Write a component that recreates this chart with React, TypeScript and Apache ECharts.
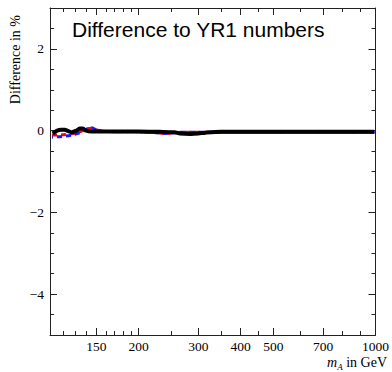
import React, { useEffect, useRef } from "react";
import * as echarts from "echarts";

// m_A in GeV and difference in % for each curve
const blackMass = [111.5, 113, 115, 118, 121, 124, 127, 131, 134, 137, 140, 145, 150, 160, 180, 200, 230, 255, 265, 285, 300, 315, 350, 400, 500, 600, 700, 800, 900, 990];
const blackDiff = [-0.07, -0.04, 0.0, 0.02, 0.02, -0.01, -0.04, 0.0, 0.05, 0.05, 0.0, -0.02, -0.02, -0.02, -0.02, -0.02, -0.03, -0.04, -0.07, -0.08, -0.07, -0.05, -0.03, -0.03, -0.03, -0.03, -0.03, -0.03, -0.03, -0.03];

const redMass = [111, 115, 120, 127, 134, 140, 145, 150, 160, 200, 225, 240, 255, 270, 300, 400, 500, 700, 900, 995];
const redDiff = [-0.11, -0.11, -0.1, -0.08, -0.03, 0.04, 0.06, 0.02, -0.02, -0.03, -0.05, -0.07, -0.05, -0.04, -0.04, -0.04, -0.04, -0.04, -0.04, -0.04];

const blueMass = [111, 115, 120, 127, 134, 140, 145, 150, 160, 200, 225, 240, 255, 270, 300, 400, 500, 700, 900, 1000];
const blueDiff = [-0.16, -0.15, -0.14, -0.11, -0.05, 0.03, 0.07, 0.02, -0.02, -0.03, -0.05, -0.07, -0.05, -0.04, -0.04, -0.04, -0.04, -0.04, -0.04, -0.04];

const majorXTicks = [150, 200, 300, 400, 500, 700, 1000];
const minorXTicks = [110, 120, 130, 140, 160, 170, 180, 190, 250, 350, 450, 600, 800, 900];
const majorYTicks = [-4, -2, 0, 2];
const minorYTicks = [-5, -4.5, -3.5, -3, -2.5, -1.5, -1, -0.5, 0.5, 1, 1.5, 2.5, 3];

const titleText = "Difference to YR1 numbers";
const yName = "Difference in %";

export default function App() {
  const ref = useRef<HTMLDivElement>(null);
  useEffect(() => {
    if (!ref.current) return;
    const chart = echarts.init(ref.current, null, { renderer: "svg" });
    const lg = (v: number) => Math.log10(v);
    const xMin = lg(109.5);
    const xMax = 3;
    const serif = "'Liberation Serif', 'DejaVu Serif', serif";
    const sans = "'Liberation Sans', Arial, sans-serif";
    const axisColor = "#222";

    const mkX = (pos: string, ticks: number[], len: number, labels: boolean, line: boolean) => ({
      type: "value",
      position: pos,
      min: xMin,
      max: xMax,
      axisLine: { show: line, onZero: false, lineStyle: { color: axisColor, width: 1 } },
      axisTick: { show: true, inside: true, length: len, customValues: ticks.map(lg), lineStyle: { color: axisColor, width: 1 } },
      axisLabel: labels
        ? {
            show: true,
            customValues: ticks.map(lg),
            formatter: (v: number) => String(Math.round(Math.pow(10, v))),
            fontFamily: serif,
            fontSize: 13.5,
            color: "#000",
            margin: 4,
          }
        : { show: false },
      splitLine: { show: false },
    });
    const fmtY = (v: number) => (v < 0 ? "\u2212" + Math.abs(v) : String(v));
    const mkY = (pos: string, ticks: number[], len: number, labels: boolean, line: boolean) => ({
      type: "value",
      position: pos,
      min: -5,
      max: 3,
      axisLine: { show: line, onZero: false, lineStyle: { color: axisColor, width: 1 } },
      axisTick: { show: true, inside: true, length: len, customValues: ticks, lineStyle: { color: axisColor, width: 1 } },
      axisLabel: labels
        ? { show: true, customValues: ticks, formatter: fmtY, fontFamily: serif, fontSize: 13.5, color: "#000", margin: 6 }
        : { show: false },
      splitLine: { show: false },
    });

    const zip = (xs: number[], ys: number[]) => xs.map((x, i) => [lg(x), ys[i]]);

    chart.setOption({
      animation: false,
      backgroundColor: "#fff",
      grid: { left: 50, right: 15, top: 8, bottom: 37, containLabel: false },
      xAxis: [
        mkX("bottom", majorXTicks, 7, true, true),
        mkX("bottom", minorXTicks, 4, false, false),
        mkX("top", majorXTicks, 7, false, true),
        mkX("top", minorXTicks, 4, false, false),
      ],
      yAxis: [
        mkY("left", majorYTicks, 7, true, true),
        mkY("left", minorYTicks, 4, false, false),
        mkY("right", majorYTicks, 7, false, true),
        mkY("right", minorYTicks, 4, false, false),
      ],
      series: [
        {
          name: "red",
          type: "line",
          xAxisIndex: 0,
          yAxisIndex: 0,
          symbol: "none",
          smooth: 0.3,
          data: zip(redMass, redDiff),
          lineStyle: { color: "#ff0000", width: 3, type: [5, 4] },
          z: 2,
        },
        {
          name: "blue",
          type: "line",
          xAxisIndex: 0,
          yAxisIndex: 0,
          symbol: "none",
          smooth: 0.3,
          data: zip(blueMass, blueDiff),
          lineStyle: { color: "#1a1aff", width: 3, type: [5, 4], dashOffset: 4 },
          z: 3,
        },
        {
          name: "black",
          type: "line",
          xAxisIndex: 0,
          yAxisIndex: 0,
          symbol: "none",
          smooth: 0.3,
          data: zip(blackMass, blackDiff),
          lineStyle: { color: "#000", width: 4 },
          z: 4,
        },
      ],
      graphic: [
        {
          type: "text",
          left: 72,
          top: 19,
          style: { text: titleText, font: "21px " + sans, fill: "#000" },
        },
        {
          type: "text",
          x: 15,
          y: 15,
          rotation: Math.PI / 2,
          style: {
            text: yName,
            font: "14px " + serif,
            fill: "#000",
            align: "right",
            verticalAlign: "middle",
            textAlign: "right",
            textVerticalAlign: "middle",
          },
        },
        {
          type: "text",
          x: 387,
          y: 362,
          style: {
            text: "{i|m}{s|A}{n| in GeV}",
            fill: "#000",
            align: "right",
            verticalAlign: "middle",
            textAlign: "right",
            textVerticalAlign: "middle",
            rich: {
              i: { fontFamily: serif, fontStyle: "italic", fontSize: 14, lineHeight: 18 },
              s: { fontFamily: serif, fontStyle: "italic", fontSize: 9, lineHeight: 8, verticalAlign: "bottom" },
              n: { fontFamily: serif, fontSize: 14, lineHeight: 18 },
            },
          },
        },
      ],
    });
    return () => chart.dispose();
  }, []);
  return <div ref={ref} style={{ position: "fixed", left: 0, top: 0, width: 392, height: 372 }} />;
}
